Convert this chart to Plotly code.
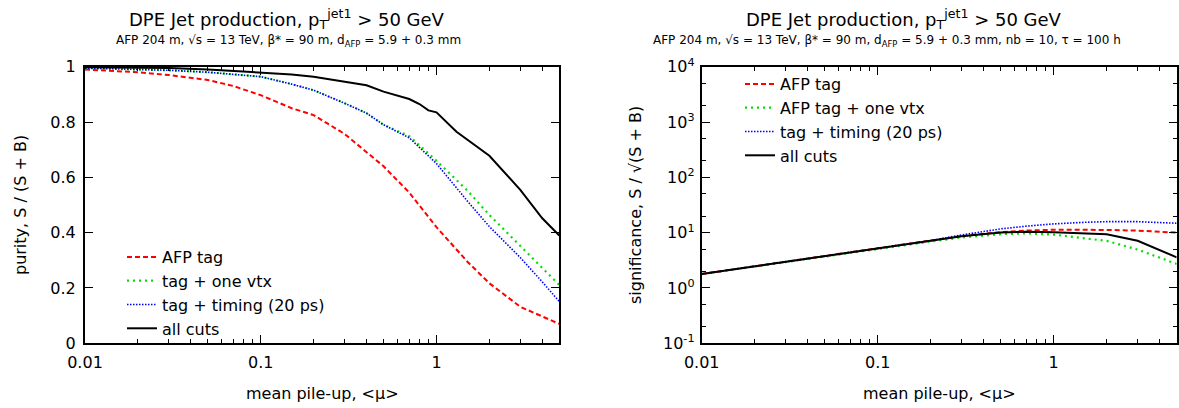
import plotly.graph_objects as go

# ---------------- data ----------------
# left panel: purity vs mean pile-up
mu_p = [0.01, 0.02, 0.03, 0.05, 0.07, 0.1, 0.15, 0.2, 0.3, 0.4, 0.5, 0.7, 1.0, 1.5, 2.0, 3.0, 4.0, 5.0]
pur_afp = [0.99, 0.98, 0.97, 0.952, 0.93, 0.897, 0.85, 0.825, 0.757, 0.69, 0.64, 0.545, 0.42, 0.295, 0.217, 0.132, 0.097, 0.07]
pur_vtx = [0.995, 0.99, 0.987, 0.98, 0.973, 0.964, 0.937, 0.915, 0.868, 0.832, 0.79, 0.749, 0.66, 0.552, 0.464, 0.353, 0.275, 0.211]
pur_tim = [0.995, 0.99, 0.987, 0.98, 0.973, 0.964, 0.937, 0.915, 0.868, 0.832, 0.79, 0.743, 0.65, 0.514, 0.422, 0.31, 0.222, 0.151]
mu_pb = [0.01, 0.02, 0.03, 0.05, 0.07, 0.1, 0.15, 0.2, 0.3, 0.4, 0.5, 0.7, 0.8, 0.9, 1.0, 1.3, 2.0, 3.0, 4.0, 5.0]
pur_all = [0.998, 0.997, 0.995, 0.99, 0.985, 0.98, 0.972, 0.964, 0.945, 0.933, 0.91, 0.883, 0.865, 0.842, 0.835, 0.765, 0.678, 0.555, 0.452, 0.39]

# right panel: significance vs mean pile-up
mu_s = [0.01, 0.02, 0.05, 0.1, 0.2, 0.3, 0.5, 0.7, 1.0, 1.5, 2.0, 3.0, 4.0, 5.0]
sig_afp = [1.79, 2.46, 3.76, 5.16, 7.0, 8.7, 10.2, 10.9, 11.3, 11.3, 11.2, 10.9, 10.5, 10.0]
sig_vtx = [1.79, 2.46, 3.76, 5.14, 6.9, 8.2, 9.4, 9.7, 9.2, 7.9, 7.1, 4.95, 3.6, 2.72]
sig_tim = [1.79, 2.46, 3.76, 5.18, 7.2, 9.1, 11.7, 13.1, 14.4, 15.4, 15.8, 15.8, 15.4, 14.8]
sig_all = [1.79, 2.46, 3.76, 5.16, 6.95, 8.6, 10.1, 10.4, 10.2, 9.8, 9.4, 7.15, 4.8, 3.58]

names_left = ["AFP tag", "tag + one vtx", "tag + timing (20 ps)", "all cuts"]
names_right = ["AFP tag", "AFP tag + one vtx", "tag + timing (20 ps)", "all cuts"]

x_ticks = [0.01, 0.1, 1]
x_ticktext = ["0.01", "0.1", "1"]
y2_ticks = [0.1, 1, 10, 100, 1000, 10000]
y2_ticktext = ["10<sup>-1</sup>", "10<sup>0</sup>", "10<sup>1</sup>", "10<sup>2</sup>", "10<sup>3</sup>", "10<sup>4</sup>"]

# ---------------- styles ----------------
FONT = "DejaVu Sans"
styles = [
    dict(color="#ff0000", width=2, dash="5px,3px"),
    dict(color="#00e000", width=2.2, dash="2px,4px"),
    dict(color="#0000ff", width=1.6, dash="1.5px,1.5px"),
    dict(color="#000000", width=2),
]

W, H = 1179, 408
L1, R1 = 85 / W, 559.3 / W
L2, R2 = 701.7 / W, 1176.7 / W
B, T = 1 - 343.3 / H, 1 - 66.7 / H

fig = go.Figure()

left_series = [(mu_p, pur_afp), (mu_p, pur_vtx), (mu_p, pur_tim), (mu_pb, pur_all)]
right_series = [(mu_s, sig_afp), (mu_s, sig_vtx), (mu_s, sig_tim), (mu_s, sig_all)]

for (x, y), name, st in zip(left_series, names_left, styles):
    fig.add_trace(go.Scatter(x=x, y=y, mode="lines", name=name, line=st,
                             xaxis="x", yaxis="y", legend="legend"))
for (x, y), name, st in zip(right_series, names_right, styles):
    fig.add_trace(go.Scatter(x=x, y=y, mode="lines", name=name, line=st,
                             xaxis="x2", yaxis="y2", legend="legend2"))

axis_common = dict(
    showline=True, linecolor="black", linewidth=2, mirror="allticks",
    ticks="inside", ticklen=8, tickwidth=1.3, tickcolor="black",
    showgrid=False, zeroline=False, automargin=False,
    tickfont=dict(family=FONT, size=16, color="black"),
)
xminor = dict(ticks="inside", ticklen=4, tickwidth=1, tickcolor="black", dtick="D1", showgrid=False)

fig.update_layout(
    width=W, height=H,
    margin=dict(l=0, r=0, t=0, b=0, autoexpand=False),
    paper_bgcolor="white", plot_bgcolor="white",
    font=dict(family=FONT, size=16, color="black"),
    xaxis=dict(domain=[L1, R1], anchor="y", type="log", range=[-2, 0.69897],
               tickmode="array", tickvals=x_ticks, ticktext=x_ticktext,
               minor=xminor, ticklabelstandoff=3, **axis_common),
    yaxis=dict(domain=[B, T], anchor="x", range=[0, 1], tickmode="linear",
               tick0=0, dtick=0.2, ticklabelstandoff=4, **axis_common),
    xaxis2=dict(domain=[L2, R2], anchor="y2", type="log", range=[-2, 0.69897],
                tickmode="array", tickvals=x_ticks, ticktext=x_ticktext,
                minor=xminor, ticklabelstandoff=3, **axis_common),
    yaxis2=dict(domain=[B, T], anchor="x2", type="log", range=[-1, 4],
                tickmode="array", tickvals=y2_ticks, ticktext=y2_ticktext,
                minor=dict(ticks="inside", ticklen=4, tickwidth=1, tickcolor="black", dtick="D2", showgrid=False),
                ticklabelstandoff=2, **axis_common),
    showlegend=True,
    legend=dict(x=122 / W, y=1 - 240 / H, xanchor="left", yanchor="top",
                bgcolor="rgba(0,0,0,0)", font=dict(family=FONT, size=16), tracegroupgap=0),
    legend2=dict(x=740 / W, y=1 - 67 / H, xanchor="left", yanchor="top",
                 bgcolor="rgba(0,0,0,0)", font=dict(family=FONT, size=16), tracegroupgap=0),
)

title_main = "DPE Jet production, p<sub>T</sub><sup>jet1</sup> &gt; 50 GeV"
sub_left = "AFP 204 m, √s = 13 TeV, β* = 90 m, d<sub>AFP</sub> = 5.9 + 0.3 mm"
sub_right = sub_left + ", nb = 10, τ = 100 h"

ann = [
    dict(text=title_main, x=287 / W, y=1 - 19 / H, size=18),
    dict(text=sub_left, x=288 / W, y=1 - 41 / H, size=12),
    dict(text=title_main, x=904 / W, y=1 - 19 / H, size=18),
    dict(text=sub_right, x=887 / W, y=1 - 41 / H, size=12),
    dict(text="mean pile-up, &lt;μ&gt;", x=(85 + 559.3) / 2 / W, y=1 - 393 / H, size=16),
    dict(text="mean pile-up, &lt;μ&gt;", x=(701.7 + 1176.7) / 2 / W, y=1 - 393 / H, size=16),
]
for a in ann:
    fig.add_annotation(text=a["text"], x=a["x"], y=a["y"], xref="paper", yref="paper",
                       xanchor="center", yanchor="middle", showarrow=False,
                       font=dict(family=FONT, size=a["size"], color="black"))

fig.add_annotation(text="purity, S / (S + B)", x=20 / W, y=(B + T) / 2, xref="paper", yref="paper",
                   textangle=-90, showarrow=False, xanchor="center", yanchor="middle",
                   font=dict(family=FONT, size=16, color="black"))
fig.add_annotation(text="significance, S / √(S + B)", x=635 / W, y=(B + T) / 2, xref="paper", yref="paper",
                   textangle=-90, showarrow=False, xanchor="center", yanchor="middle",
                   font=dict(family=FONT, size=16, color="black"))

# remove the browser's default body margin so the figure fills the window exactly
fig.write_html("out.html", config={"displayModeBar": False},
               post_script="document.body.style.margin='0';")
